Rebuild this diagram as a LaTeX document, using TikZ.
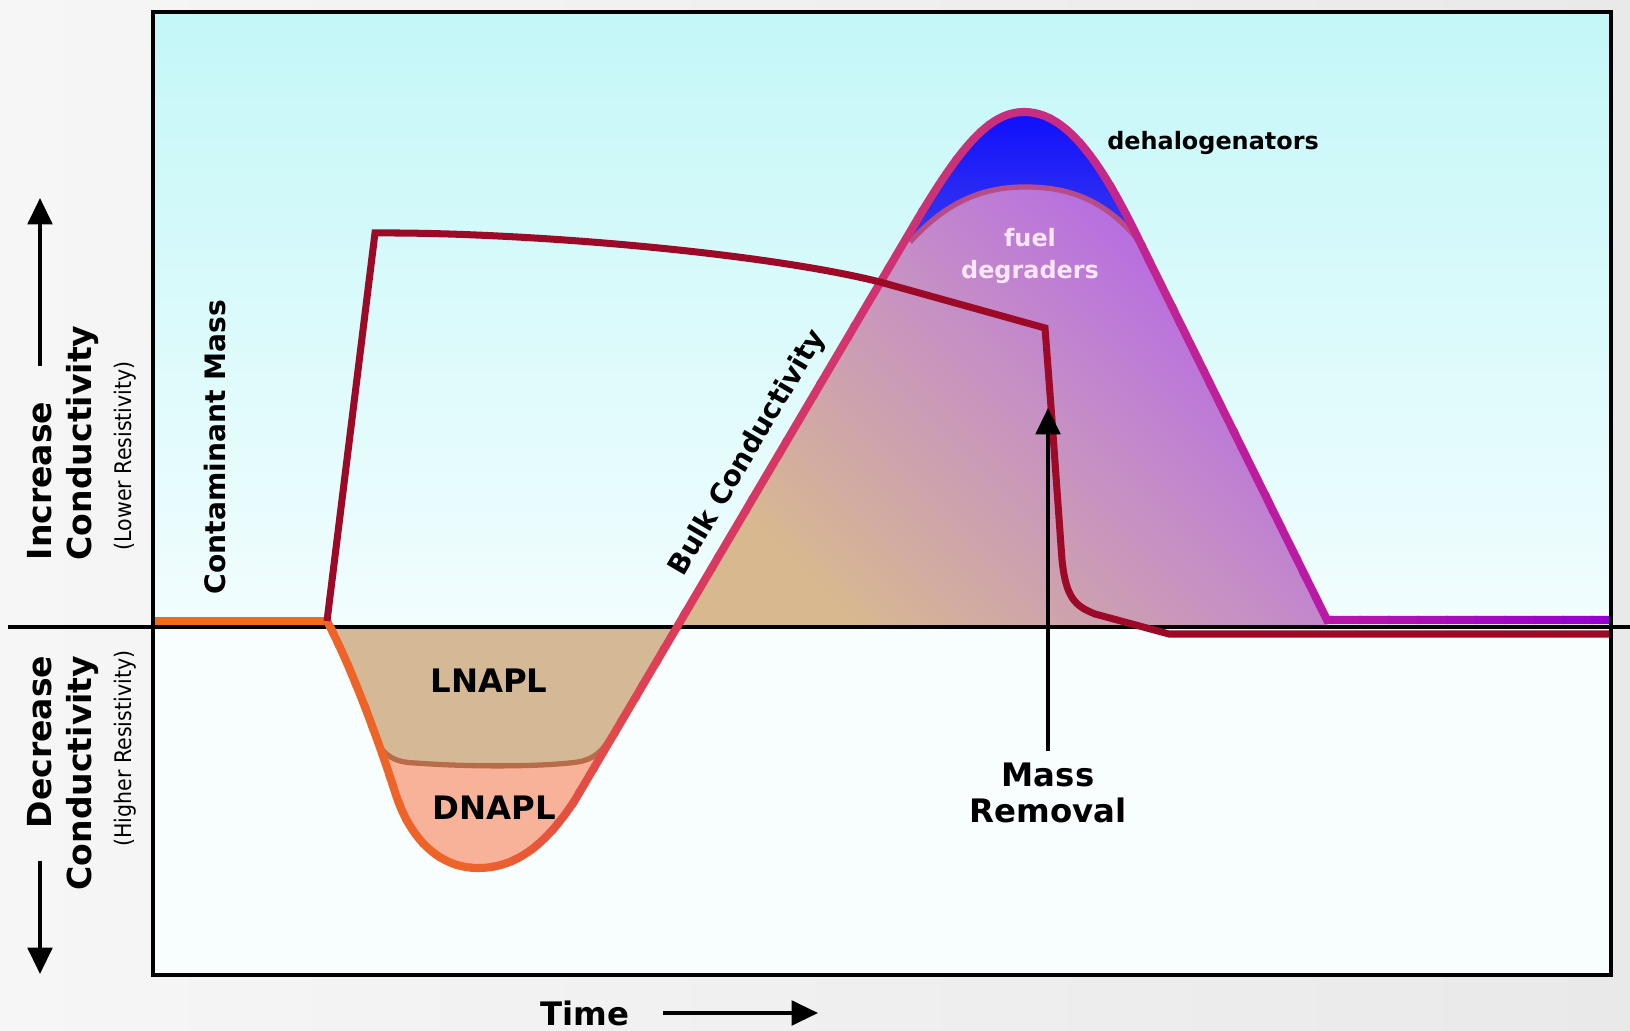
\documentclass[tikz,border=0pt]{standalone}
\usepackage{fontspec}
\setmainfont{DejaVu Sans}
\newfontfamily\condfont{DejaVu Sans Condensed}
\usetikzlibrary{arrows.meta}

\definecolor{bgLight}{HTML}{F6F6F6}
\definecolor{bgGray}{HTML}{E9E9E9}
\definecolor{skyTop}{HTML}{C4F7F8}
\definecolor{skyBottom}{HTML}{F2FDFE}
\definecolor{lowFill}{HTML}{F8FDFD}
\definecolor{humpTan}{HTML}{D8B98F}
\definecolor{humpPink}{HTML}{C690C4}
\definecolor{humpPurple}{HTML}{B05CF0}
\definecolor{blueTop}{HTML}{0808FF}
\definecolor{blueBot}{HTML}{3A3AEE}
\definecolor{fuelEdge}{HTML}{B84C88}
\definecolor{dnaplFill}{HTML}{F9B29A}
\definecolor{lnaplFill}{HTML}{D5B997}
\definecolor{lnaplEdge}{HTML}{B86C4A}
\definecolor{baseOrange}{HTML}{F06A1A}
\definecolor{massRed}{HTML}{9C0A28}
\definecolor{bcOrange}{HTML}{EE6428}
\definecolor{bcRose}{HTML}{DC3A5C}
\definecolor{bcMag}{HTML}{C82E80}
\definecolor{bcPurp}{HTML}{B818A8}
\definecolor{bcViolet}{HTML}{9400D4}
\definecolor{fuelText}{HTML}{FDE6FA}

\def\troughpath{(327,621) .. controls (352,668) and (380,745) .. (395,792) .. controls (410,840) and (440,868) .. (478,868) .. controls (515,868) and (545,846) .. (575,800) -- (677,627)}
\def\humppath{-- (910,232) .. controls (958,150) and (988,112) .. (1024,112) .. controls (1062,112) and (1095,151) .. (1135,232) -- (1327,620)}
\def\fuelarc{(910,242) .. controls (948,200) and (985,187) .. (1025,187) .. controls (1065,187) and (1105,197) .. (1142,245)}
\def\lnaplbottom{(362,712) .. controls (378,752) and (388,762) .. (415,763) .. controls (470,767) and (540,767) .. (578,762) .. controls (594,759) and (602,752) .. (612,735)}

\tikzset{
  sidelabel/.style={font=\bfseries\fontsize{9.4}{11}\selectfont, inner sep=0pt, rotate=90},
  sidenote/.style={font=\condfont\fontsize{6.5}{8}\selectfont, inner sep=0pt, rotate=90},
  curvelabel/.style={font=\bfseries\fontsize{8}{10}\selectfont, inner sep=0pt},
  arealabel/.style={font=\bfseries\fontsize{9.2}{10}\selectfont, align=center},
  biglabel/.style={font=\bfseries\fontsize{9.2}{10}\selectfont, align=center},
  bigarrow/.style={line width=1pt, -{Triangle[length=7.5pt,width=7pt]}},
  bulkline/.style={line width=2.3pt},
  massline/.style={line width=2pt, draw=massRed}
}

\begin{document}
\begin{tikzpicture}[x=0.01cm,y=-0.01cm]
\useasboundingbox (0,0) rectangle (1630,1031);
\fill[left color=bgLight, right color=bgGray] (0,0) rectangle (1630,1031);
\fill[top color=skyTop, bottom color=skyBottom] (153,12) rectangle (1611,627);
\fill[lowFill] (153,627) rectangle (1611,975);

\fill[bottom color=humpTan, top color=humpPurple, middle color=humpPink, shading angle=-45] (677,627) \humppath -- (1327,627) -- cycle;
\begin{scope}
\clip (677,627) \humppath -- cycle;
\fill[top color=blueTop, bottom color=blueBot] (880,90) -- \fuelarc -- (1170,90) -- cycle;
\draw[line width=1.5pt, fuelEdge] \fuelarc;
\end{scope}

\fill[dnaplFill] \troughpath -- (327,627) -- cycle;
\begin{scope}
\clip \troughpath -- (327,627) -- cycle;
\fill[lnaplFill] (330,600) -- \lnaplbottom -- (700,600) -- cycle;
\draw[line width=1.5pt, lnaplEdge] \lnaplbottom;
\end{scope}

\draw[line width=0.9pt] (8,627) -- (1630,627);

\draw[bulkline, baseOrange] (153,621) -- (327,621);
\foreach \xa/\xb/\ca/\cb in {300/470/bcOrange/bcOrange, 470/680/bcOrange/bcRose, 680/1020/bcRose/bcMag, 1020/1330/bcMag/bcPurp, 1330/1620/bcPurp/bcViolet}{
  \foreach \i in {0,...,9}{
    \pgfmathsetmacro{\ml}{\xa+(\xb-\xa)*\i/10}
    \pgfmathsetmacro{\mr}{\xa+(\xb-\xa)*(\i+1)/10+2}
    \pgfmathtruncatemacro{\pc}{95-10*\i}
    \begin{scope}
      \clip (\ml,0) rectangle (\mr,1031);
      \draw[bulkline, draw=\ca!\pc!\cb] \troughpath \humppath -- (1611,620);
    \end{scope}
  }
}

\draw[massline] (327,621) -- (375,233) .. controls (520,232) and (760,252) .. (880,282) -- (1045,328) -- (1052,420) -- (1062,560) .. controls (1066,598) and (1075,606) .. (1095,614) -- (1169,634) -- (1611,634);

\draw[line width=1.2pt] (153,12) rectangle (1611,975);

\node[sidelabel, anchor=west] (incr) at (40,561) {Increase};
\node[sidelabel, anchor=west] (condup) at (83,561) {Conductivity};
\node[sidenote, anchor=west] (lowres) at (125,551) {(Lower Resistivity)};
\node[sidelabel, anchor=east] (decr) at (40,655) {Decrease};
\node[sidelabel, anchor=east] (conddown) at (83,655) {Conductivity};
\node[sidenote, anchor=east] (highres) at (125,650) {(Higher Resistivity)};
\coordinate (uptip) at (36,198);
\coordinate (downtip) at (36,974);
\draw[bigarrow, shorten <=10pt] (incr.east) -- (incr.east |- uptip);
\draw[bigarrow, shorten <=9pt] (decr.west) -- (decr.west |- downtip);

\node[curvelabel, rotate=90] (contam) at (215,447) {Contaminant Mass};
\node[curvelabel, rotate=59.5] (bulk) at (748,453) {Bulk Conductivity};
\node[font=\bfseries\fontsize{6.8}{8}\selectfont] (dehalo) at (1213,143) {dehalogenators};
\node[font=\bfseries\fontsize{6.8}{9.1}\selectfont, align=center, text=fuelText] (fuel) at (1030,256) {fuel\\degraders};
\node[arealabel] (lnapl) at (489,681) {LNAPL};
\node[arealabel] (dnapl) at (494,808) {DNAPL};

\node[biglabel] (massrem) at (1048,793) {Mass\\Removal};
\coordinate (masstip) at (1048,408);
\draw[bigarrow] (massrem.north) -- (masstip);

\node[biglabel] (time) at (585,1013) {Time};
\coordinate (timetip) at (818,1013);
\draw[bigarrow, shorten <=6pt] (time.east) -- (timetip);
\end{tikzpicture}
\end{document}
